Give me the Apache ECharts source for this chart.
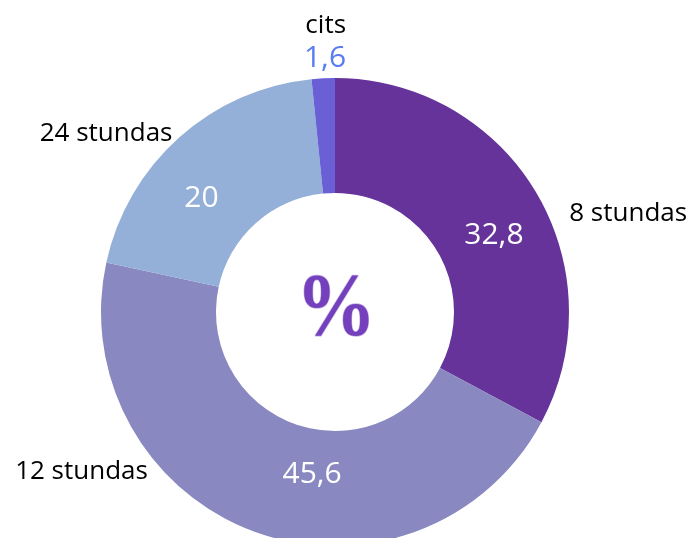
<!DOCTYPE html>
<html>
<head>
<meta charset="utf-8">
<script src="https://cdn.jsdelivr.net/npm/echarts@6/dist/echarts.min.js"></script>
<style>
  html, body { margin: 0; padding: 0; background: #fff; }
  #main { width: 694px; height: 538px; }
</style>
</head>
<body>
<div id="main"></div>
<script>
// data
var categories = ['8 stundas', '12 stundas', '24 stundas', 'cits'];
var values = [32.8, 45.6, 20, 1.6];
var colors = ['#65339a', '#8988c0', '#95b0d8', '#6b5fd6'];

var fmt = function (v) { return String(v).replace('.', ','); };
var font = '"Open Sans", sans-serif';

// nudges so labels sit where the original put them
var valueShift = [[5, 16], [39, -6], [-14, 20], [28, -32]];
var nameShift = [[20, 27], [-98, -52], [5, 4], [0, 0]];

var chart = echarts.init(document.getElementById('main'));

var pieData = categories.map(function (name, i) {
  var item = { name: name, value: values[i], itemStyle: { color: colors[i] } };
  if (name === 'cits') {
    item.label = {
      position: 'outside',
      formatter: '{n|{b}}\n{v|' + fmt(values[i]) + '}',
      rich: {
        n: { fontSize: 26, color: '#000', fontFamily: font, lineHeight: 33 },
        v: { fontSize: 30, color: '#5a7cf2', fontFamily: font, lineHeight: 33 }
      }
    };
  }
  return item;
});

var nameData = categories.map(function (name, i) {
  return { name: name, value: values[i], label: { show: name !== 'cits' } };
});

chart.setOption({
  animation: false,
  graphic: [{
    type: 'text',
    x: 336, y: 311,
    scaleY: 1.12,
    style: {
      text: '%',
      font: 'bold 80px "Liberation Serif", "DejaVu Serif", serif',
      fill: '#7440bb',
      stroke: '#c9b6ea',
      lineWidth: 1.2,
      align: 'center',
      verticalAlign: 'middle',
      shadowColor: 'rgba(50,20,80,0.55)',
      shadowBlur: 2,
      shadowOffsetX: 1,
      shadowOffsetY: 1
    },
    z: 10
  }],
  series: [
    {
      type: 'pie',
      center: [335, 312],
      radius: [119, 234],
      startAngle: 90,
      clockwise: true,
      silent: true,
      label: {
        show: true,
        position: 'inside',
        color: '#fff',
        fontSize: 30,
        fontFamily: font,
        formatter: function (p) { return fmt(p.value); }
      },
      labelLine: { show: false, length: 4, length2: 0 },
      labelLayout: function (p) {
        return { dx: valueShift[p.dataIndex][0], dy: valueShift[p.dataIndex][1] };
      },
      data: pieData
    },
    {
      type: 'pie',
      center: [335, 312],
      radius: [119, 234],
      startAngle: 90,
      clockwise: true,
      silent: true,
      itemStyle: { color: 'transparent' },
      label: {
        show: true,
        position: 'outside',
        color: '#000',
        fontSize: 26,
        fontFamily: font,
        formatter: '{b}'
      },
      labelLine: { show: false, length: 10, length2: 0 },
      labelLayout: function (p) {
        return { dx: nameShift[p.dataIndex][0], dy: nameShift[p.dataIndex][1] };
      },
      data: nameData
    }
  ]
});
</script>
</body>
</html>
